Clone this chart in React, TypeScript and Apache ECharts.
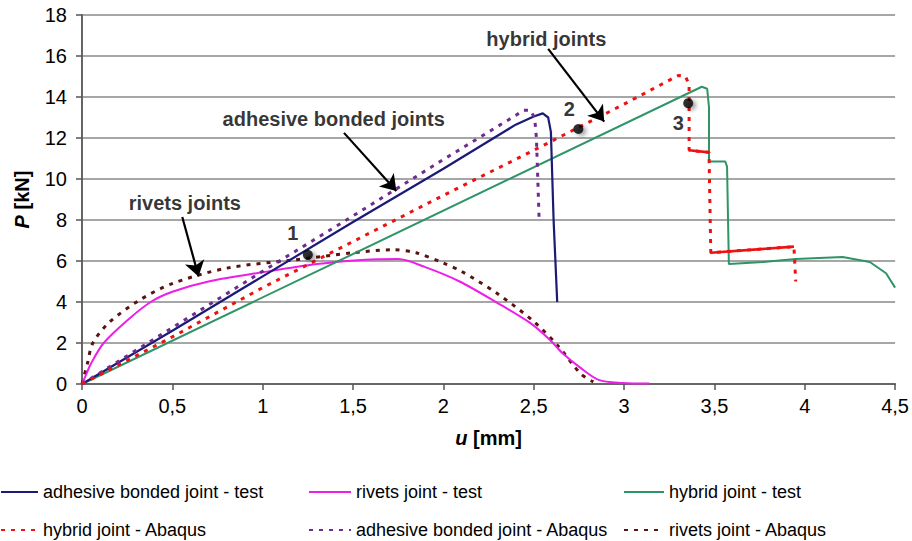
import React, { useEffect, useRef } from 'react';
import * as echarts from 'echarts';

// ---- Data (u [mm], P [kN]) ----
const adhesiveTest: number[][] = [
  [0, 0], [0.5, 2.6], [1, 5.25], [1.5, 7.9], [2, 10.5], [2.4, 12.65], [2.5, 13.05],
  [2.55, 13.2], [2.58, 13.0], [2.595, 12.3], [2.61, 8.0], [2.63, 4.0],
];
const rivetsTest: number[][] = [
  [0, 0], [0.02, 0.4], [0.05, 1.0], [0.12, 2.0], [0.25, 3.1], [0.38, 4.0], [0.5, 4.5],
  [0.7, 5.0], [1.0, 5.45], [1.3, 5.85], [1.55, 6.05], [1.75, 6.1], [1.9, 5.7], [2.09, 5.0],
  [2.3, 3.95], [2.48, 2.98], [2.59, 2.15], [2.66, 1.5], [2.75, 0.85], [2.86, 0.2],
  [2.99, 0.05], [3.14, 0.02],
];
const hybridTest: number[][] = [
  [0, 0], [3.43, 14.5], [3.46, 14.4], [3.47, 13.5], [3.47, 10.85], [3.56, 10.85],
  [3.57, 10.6], [3.58, 5.85], [3.77, 5.95], [3.95, 6.1], [4.21, 6.2], [4.36, 5.95],
  [4.45, 5.4], [4.5, 4.7],
];
const hybridAbaqus: number[][] = [
  [0, 0], [0.5, 2.3], [1, 4.7], [1.5, 6.95], [2, 9.2], [2.5, 11.4], [3, 13.65],
  [3.3, 15.05], [3.34, 15.0], [3.36, 14.6], [3.36, 11.4], [3.47, 11.3], [3.48, 6.4],
  [3.94, 6.7], [3.95, 5.0],
];
const hybridAbaqusSolid: number[][][] = [
  [[3.36, 11.4], [3.47, 11.3]],
  [[3.48, 6.4], [3.94, 6.7]],
];
const adhesiveAbaqus: number[][] = [
  [0, 0], [0.5, 2.75], [1, 5.5], [1.5, 8.2], [2, 10.95], [2.4, 13.1], [2.44, 13.35],
  [2.48, 13.35], [2.505, 13.0], [2.515, 12.0], [2.53, 8.0],
];
const rivetsAbaqus: number[][] = [
  [0, 0], [0.03, 1.0], [0.06, 2.0], [0.15, 3.0], [0.32, 4.1], [0.5, 4.9], [0.8, 5.65],
  [1.17, 6.05], [1.5, 6.4], [1.72, 6.55], [1.85, 6.4], [2.0, 5.9], [2.1, 5.5],
  [2.3, 4.4], [2.5, 3.05], [2.64, 1.8], [2.76, 0.5], [2.83, 0.1],
];

const seriesNames = [
  'adhesive bonded joint - test',
  'rivets joint - test',
  'hybrid joint - test',
  'hybrid joint - Abaqus',
  'adhesive bonded joint - Abaqus',
  'rivets joint - Abaqus',
];

// annotation points
const markedPoints: { id: string; pos: number[]; off: number[] }[] = [
  { id: '1', pos: [1.25, 6.3], off: [-15, -22] },
  { id: '2', pos: [2.747, 12.44], off: [-9, -20] },
  { id: '3', pos: [3.355, 13.7], off: [-10, 20] },
];
const labelTexts: { text: string; pos: number[] }[] = [
  { text: 'hybrid joints', pos: [2.57, 16.85] },
  { text: 'adhesive bonded joints', pos: [1.393, 12.93] },
  { text: 'rivets joints', pos: [0.569, 8.83] },
];
const arrows: number[][][] = [
  [[2.58, 16.35], [2.89, 12.8]],
  [[1.45, 12.25], [1.74, 9.42]],
  [[0.555, 8.15], [0.645, 5.25]],
];

const X_MIN = 0, X_MAX = 4.5, X_INT = 0.5;
const Y_MIN = 0, Y_MAX = 18, Y_INT = 2;

const FONT = '"Liberation Sans", Arial, sans-serif';

export default function App() {
  const ref = useRef<HTMLDivElement>(null);
  useEffect(() => {
    const chart = echarts.init(ref.current!, null, { renderer: 'svg' });
    const lineSeries = (name: string, data: number[][], color: string, type: any, width: number, extra: any = {}) => ({
      name, type: 'line', data, symbol: 'none', showSymbol: false, smooth: false,
      lineStyle: { color, type, width }, itemStyle: { color }, z: 3, ...extra,
    });
    const legendCommon = {
      orient: 'vertical', padding: 0, itemHeight: 14, itemGap: 20,
      itemStyle: { opacity: 0, color: 'rgba(0,0,0,0)', borderWidth: 0 },
      textStyle: { fontSize: 18, fontFamily: FONT, color: '#000', lineHeight: 18 },
      selectedMode: false,
    };
    chart.setOption({
      animation: false,
      textStyle: { fontFamily: FONT },
      grid: { left: 82, right: 16, top: 15, bottom: 157 },
      xAxis: {
        type: 'value', min: X_MIN, max: X_MAX, interval: X_INT,
        name: '{i|u} [mm]', nameLocation: 'middle', nameGap: 44,
        nameTextStyle: {
          fontSize: 20, fontWeight: 'bold', color: '#000', fontFamily: FONT,
          rich: { i: { fontSize: 20, fontWeight: 'bold', fontStyle: 'italic', fontFamily: FONT, color: '#000' } },
        },
        axisLine: { lineStyle: { color: '#666', width: 2 } },
        axisTick: { show: true, length: 6, lineStyle: { color: '#555', width: 1.5 } },
        axisLabel: { fontSize: 20, color: '#000', margin: 12, fontFamily: FONT, formatter: (v: number) => String(v).replace('.', ',') },
        splitLine: { show: false },
      },
      yAxis: {
        type: 'value', min: Y_MIN, max: Y_MAX, interval: Y_INT,
        name: '{i|P} [kN]', nameLocation: 'middle', nameGap: 50, nameRotate: 90,
        nameTextStyle: {
          fontSize: 20, fontWeight: 'bold', color: '#000', fontFamily: FONT,
          rich: { i: { fontSize: 20, fontWeight: 'bold', fontStyle: 'italic', fontFamily: FONT, color: '#000' } },
        },
        axisLine: { show: true, lineStyle: { color: '#666', width: 2 } },
        axisTick: { show: true, length: 6, lineStyle: { color: '#555', width: 1.5 } },
        axisLabel: { fontSize: 20, color: '#000', margin: 15, fontFamily: FONT },
        splitLine: { show: true, lineStyle: { color: '#888', width: 1.5 } },
      },
      legend: [
        { ...legendCommon, left: 0, top: 483, itemWidth: 37, data: [seriesNames[0], seriesNames[3]] },
        { ...legendCommon, left: 308, top: 483, itemWidth: 42, data: [seriesNames[1], seriesNames[4]] },
        { ...legendCommon, left: 623, top: 483, itemWidth: 40, data: [seriesNames[2], seriesNames[5]] },
      ],
      series: [
        lineSeries(seriesNames[5], rivetsAbaqus, '#5a1212', [4, 6], 3, { smooth: 0.3 }),
        lineSeries(seriesNames[1], rivetsTest, '#ee1ee8', 'solid', 2, { smooth: 0.3 }),
        lineSeries(seriesNames[2], hybridTest, '#2f9467', 'solid', 2),
        lineSeries(seriesNames[0], adhesiveTest, '#1a1a78', 'solid', 2.2),
        lineSeries(seriesNames[4], adhesiveAbaqus, '#6e2c91', [4, 6], 3),
        lineSeries(seriesNames[3], hybridAbaqus, '#ee1111', [4, 6], 3, {
          markLine: {
            silent: true, symbol: ['none', 'none'], label: { show: false },
            lineStyle: { color: '#ee1111', type: 'solid', width: 2.6 },
            emphasis: { disabled: true },
            data: hybridAbaqusSolid.map((s) => [{ coord: s[0] }, { coord: s[1] }]),
          },
        }),
        {
          type: 'lines', name: 'arrows', coordinateSystem: 'cartesian2d', z: 6, silent: true,
          symbol: ['none', 'arrow'], symbolSize: 15,
          lineStyle: { color: '#000', width: 2.2, type: 'solid', opacity: 1, curveness: 0 },
          itemStyle: { color: '#000' },
          data: arrows.map((a) => ({ coords: a })),
        },
        {
          type: 'scatter', name: 'points', symbolSize: 10, z: 5,
          itemStyle: { color: '#000', shadowBlur: 4, shadowColor: 'rgba(0,0,0,0.45)', shadowOffsetX: 3, shadowOffsetY: 2 },
          data: markedPoints.map((p) => ({
            value: p.pos, name: p.id,
            label: { show: true, formatter: '{b}', position: 'inside', offset: p.off, fontSize: 20, fontWeight: 'bold', color: '#000', fontFamily: FONT },
          })),
        },
        {
          type: 'scatter', name: 'labels', symbolSize: 1, z: 6, silent: true,
          itemStyle: { color: 'rgba(0,0,0,0)' },
          data: labelTexts.map((t) => ({ value: t.pos, name: t.text })),
          label: { show: true, formatter: '{b}', position: 'inside', fontSize: 20, fontWeight: 'bold', color: '#000', fontFamily: FONT },
        },
      ],
    });
    return () => chart.dispose();
  }, []);
  return <div ref={ref} style={{ position: 'absolute', left: 0, top: 0, width: 912, height: 541 }} />;
}
